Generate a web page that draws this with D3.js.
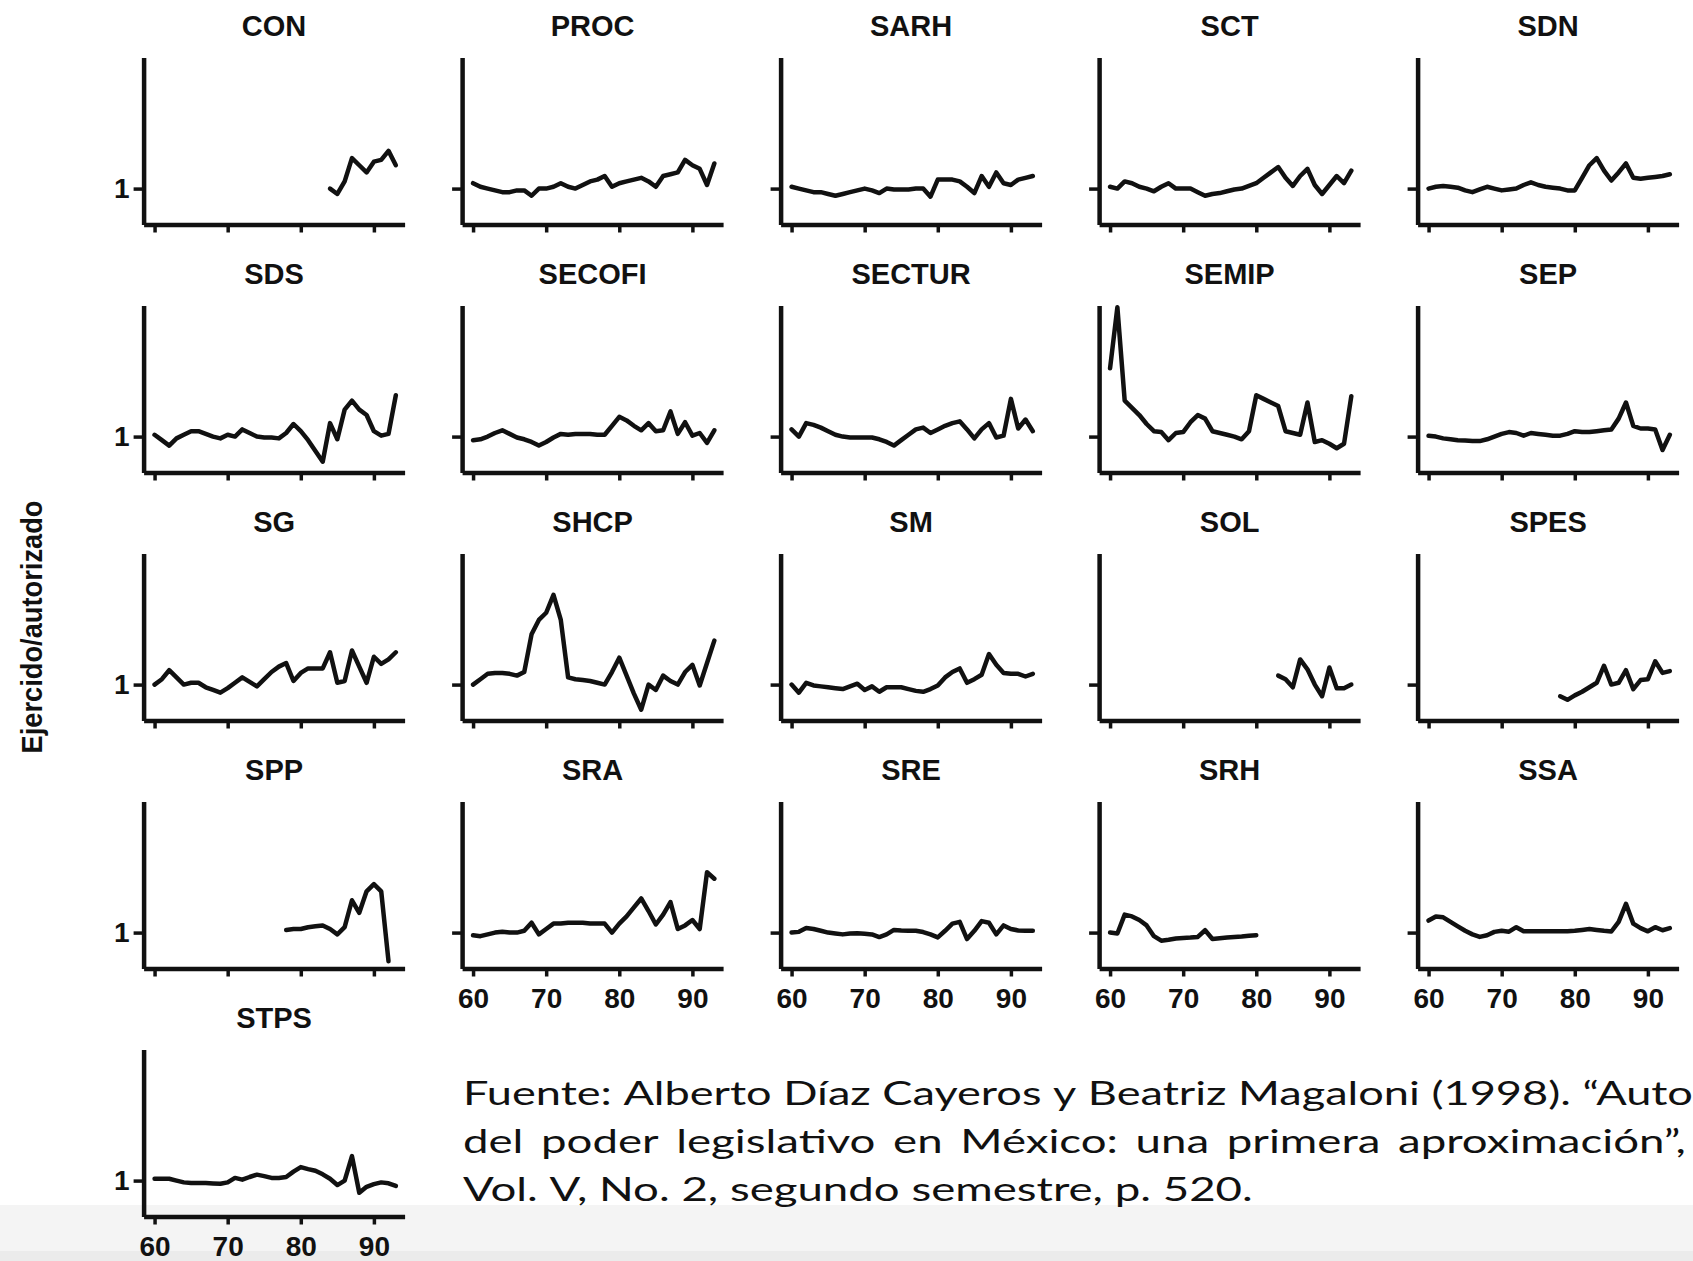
<!DOCTYPE html>
<html>
<head>
<meta charset="utf-8">
<script src="https://cdn.jsdelivr.net/npm/d3@7"></script>
<style>
  body { margin: 0; background: #fff; }
  svg { display: block; }
  .axis path.domain { stroke: #111; stroke-width: 4.5; }
  .axis .tick line { stroke: #111; stroke-width: 3.5; }
  .axis text { font-family: "Liberation Sans", Arial, sans-serif; font-weight: bold; font-size: 28px; fill: #111; }
  .title { font-family: "Liberation Sans", Arial, sans-serif; font-weight: bold; font-size: 29px; fill: #111; }
  .source { font-family: Lato, "Open Sans", sans-serif; font-size: 32px; fill: #111; }
</style>
</head>
<body>
<script>
const width = 1693, height = 1261;

// panels in the order of the figure (5 per row)
const agencies = ["CON", "PROC", "SARH", "SCT", "SDN",
                  "SDS", "SECOFI", "SECTUR", "SEMIP", "SEP",
                  "SG", "SHCP", "SM", "SOL", "SPES",
                  "SPP", "SRA", "SRE", "SRH", "SSA",
                  "STPS"];
// first year of each series (others start in 1960)
const firstYear = { CON: 84, SOL: 83, SPES: 78, SPP: 78 };
const yearTicks = [60, 70, 80, 90];
const yTicks = [1];

// ejercido / autorizado, one value per year
const CON = [1.00, 0.97, 1.04, 1.17, 1.13, 1.09, 1.15, 1.16, 1.21, 1.13];
const PROC = [1.03, 1.01, 1.00, 0.99, 0.98, 0.98, 0.99, 0.99, 0.96, 1.00,
              1.00, 1.01, 1.03, 1.01, 1.00, 1.02, 1.04, 1.05, 1.07, 1.01,
              1.03, 1.04, 1.05, 1.06, 1.04, 1.01, 1.07, 1.08, 1.09, 1.16,
              1.13, 1.11, 1.02, 1.14];
const SARH = [1.01, 1.00, 0.99, 0.98, 0.98, 0.97, 0.96, 0.97, 0.98, 0.99,
              1.00, 0.99, 0.975, 1.00, 0.995, 0.995, 0.995, 1.00, 1.00, 0.955,
              1.05, 1.05, 1.05, 1.04, 1.01, 0.975, 1.07, 1.01, 1.09, 1.03,
              1.02, 1.05, 1.06, 1.07];
const SCT = [1.01, 1.00, 1.04, 1.03, 1.01, 1.00, 0.985, 1.01, 1.03, 1.00,
             1.00, 1.00, 0.98, 0.96, 0.97, 0.975, 0.985, 0.995, 1.00, 1.015,
             1.03, 1.06, 1.09, 1.12, 1.06, 1.015, 1.07, 1.11, 1.02, 0.97,
             1.02, 1.07, 1.03, 1.10];
const SDN = [1.00, 1.01, 1.015, 1.01, 1.005, 0.99, 0.98, 0.995, 1.01, 1.00,
             0.99, 0.995, 1.00, 1.02, 1.035, 1.02, 1.01, 1.005, 1.00, 0.99,
             0.99, 1.06, 1.13, 1.17, 1.10, 1.045, 1.09, 1.14, 1.06, 1.055,
             1.06, 1.065, 1.07, 1.08];
const SDS = [1.01, 0.98, 0.95, 0.99, 1.01, 1.03, 1.03, 1.015, 1.00, 0.99,
             1.01, 1.00, 1.04, 1.02, 1.00, 0.995, 0.995, 0.99, 1.02, 1.07,
             1.03, 0.98, 0.92, 0.86, 1.075, 0.985, 1.15, 1.20, 1.15, 1.12,
             1.03, 1.005, 1.015, 1.23];
const SECOFI = [0.98, 0.985, 1.00, 1.02, 1.035, 1.015, 0.995, 0.985, 0.97, 0.95,
                0.97, 0.995, 1.015, 1.01, 1.015, 1.015, 1.015, 1.01, 1.01, 1.06,
                1.11, 1.09, 1.06, 1.035, 1.075, 1.03, 1.035, 1.14, 1.015, 1.08,
                1.005, 1.02, 0.965, 1.035];
const SECTUR = [1.04, 1.00, 1.075, 1.065, 1.05, 1.03, 1.01, 1.00, 0.995, 0.995,
                0.995, 0.995, 0.985, 0.97, 0.95, 0.98, 1.01, 1.04, 1.05, 1.02,
                1.04, 1.06, 1.075, 1.085, 1.04, 0.99, 1.04, 1.075, 0.995, 1.005,
                1.21, 1.045, 1.095, 1.03];
const SEMIP = [1.38, 1.72, 1.20, 1.16, 1.12, 1.07, 1.03, 1.025, 0.98, 1.02,
               1.025, 1.08, 1.12, 1.10, 1.03, 1.02, 1.01, 1.00, 0.985, 1.03,
               1.23, 1.21, 1.19, 1.17, 1.03, 1.02, 1.01, 1.19, 0.97, 0.98,
               0.96, 0.935, 0.96, 1.225];
const SEP = [1.005, 1.00, 0.99, 0.985, 0.98, 0.978, 0.975, 0.975, 0.985, 1.00,
             1.015, 1.025, 1.02, 1.005, 1.02, 1.015, 1.01, 1.005, 1.005, 1.015,
             1.03, 1.025, 1.025, 1.03, 1.035, 1.04, 1.10, 1.19, 1.06, 1.045,
             1.045, 1.04, 0.925, 1.01];
const SG = [1.00, 1.03, 1.08, 1.04, 1.00, 1.01, 1.01, 0.985, 0.97, 0.955,
            0.98, 1.01, 1.04, 1.015, 0.99, 1.03, 1.07, 1.10, 1.12, 1.02,
            1.065, 1.09, 1.09, 1.09, 1.18, 1.01, 1.02, 1.19, 1.10, 1.01,
            1.155, 1.115, 1.14, 1.18];
const SHCP = [1.00, 1.03, 1.06, 1.065, 1.065, 1.06, 1.05, 1.07, 1.28, 1.36,
              1.40, 1.50, 1.36, 1.04, 1.03, 1.025, 1.02, 1.01, 1.00, 1.07,
              1.15, 1.05, 0.95, 0.86, 1.00, 0.97, 1.05, 1.02, 1.00, 1.07,
              1.11, 0.995, 1.12, 1.245];
const SM = [1.00, 0.955, 1.01, 0.995, 0.99, 0.985, 0.98, 0.975, 0.99, 1.005,
            0.97, 0.99, 0.96, 0.985, 0.985, 0.985, 0.975, 0.965, 0.96, 0.975,
            0.995, 1.04, 1.07, 1.09, 1.01, 1.03, 1.055, 1.17, 1.11, 1.065,
            1.06, 1.06, 1.045, 1.06];
const SOL = [1.05, 1.03, 0.985, 1.14, 1.085, 1.00, 0.935, 1.095, 0.98, 0.98, 1.00];
const SPES = [0.935, 0.915, 0.94, 0.96, 0.985, 1.01, 1.105, 1.00, 1.01, 1.08,
              0.975, 1.025, 1.03, 1.13, 1.065, 1.075];
const SPP = [1.015, 1.02, 1.02, 1.03, 1.035, 1.04, 1.02, 0.99, 1.03, 1.18,
             1.11, 1.23, 1.27, 1.23, 0.84];
const SRA = [0.985, 0.98, 0.99, 1.00, 1.005, 1.00, 1.00, 1.01, 1.055, 0.99,
             1.02, 1.05, 1.05, 1.055, 1.055, 1.055, 1.05, 1.05, 1.05, 1.00,
             1.05, 1.09, 1.14, 1.19, 1.12, 1.045, 1.10, 1.17, 1.02, 1.04,
             1.07, 1.02, 1.336, 1.30];
const SRE = [1.00, 1.004, 1.025, 1.02, 1.01, 1.00, 0.995, 0.99, 0.995, 0.996,
             0.993, 0.99, 0.975, 0.99, 1.015, 1.012, 1.01, 1.01, 1.003, 0.99,
             0.973, 1.01, 1.05, 1.06, 0.964, 1.01, 1.064, 1.055, 0.99, 1.04,
             1.02, 1.012, 1.01, 1.01];
const SRH = [1.00, 0.995, 1.10, 1.09, 1.07, 1.04, 0.98, 0.955, 0.96, 0.967,
             0.97, 0.972, 0.976, 1.013, 0.964, 0.968, 0.972, 0.975, 0.978, 0.982,
             0.985];
const SSA = [1.067, 1.09, 1.085, 1.06, 1.035, 1.01, 0.99, 0.976, 0.985, 1.004,
             1.01, 1.005, 1.03, 1.007, 1.007, 1.007, 1.007, 1.007, 1.007, 1.007,
             1.01, 1.015, 1.02, 1.015, 1.01, 1.006, 1.06, 1.16, 1.05, 1.025,
             1.007, 1.03, 1.013, 1.025];
const STPS = [1.01, 1.01, 1.01, 1.00, 0.99, 0.986, 0.986, 0.986, 0.984, 0.982,
              0.99, 1.015, 1.005, 1.02, 1.033, 1.025, 1.015, 1.015, 1.02, 1.05,
              1.075, 1.064, 1.055, 1.035, 1.01, 0.975, 1.00, 1.136, 0.932, 0.965,
              0.98, 0.99, 0.985, 0.97];

const yLabel = "Ejercido/autorizado";
const sourceLines = [
  "Fuente: Alberto Díaz Cayeros y Beatriz Magaloni (1998). “Auto",
  "del poder legislativo en México: una primera aproximación”,",
  "Vol. V, No. 2, segundo semestre, p. 520."
];

const values = { CON, PROC, SARH, SCT, SDN, SDS, SECOFI, SECTUR, SEMIP, SEP,
                 SG, SHCP, SM, SOL, SPES, SPP, SRA, SRE, SRH, SSA, STPS };
const series = agencies.map(name => {
  const y0 = firstYear[name] || 60;
  return { name, points: values[name].map((v, i) => ({ year: y0 + i, value: v })) };
});

// layout
const pw = 261, ph = 167;
const colStep = 318.5, rowStep = 248;
const left0 = 143.6, base0 = 224.5;

const svg = d3.select("body").append("svg")
  .attr("width", width)
  .attr("height", height);

svg.append("rect").attr("width", width).attr("height", height).attr("fill", "#fff");
svg.append("rect").attr("y", 1205).attr("width", width).attr("height", 46).attr("fill", "#f4f4f4");
svg.append("rect").attr("y", 1251).attr("width", width).attr("height", 10).attr("fill", "#ebebeb");

const x = d3.scaleLinear().domain([58.5, 94.2]).range([0, pw]);
const y = d3.scaleLinear().domain([0.8, 1.73]).range([ph, 0]);

const line = d3.line()
  .x(d => x(d.year))
  .y(d => y(d.value));

series.forEach((s, i) => {
  const col = i % 5, row = Math.floor(i / 5);
  const g = svg.append("g")
    .attr("transform", `translate(${left0 + col * colStep},${base0 + row * rowStep - ph})`);

  const showYears = i + 5 >= series.length;
  g.append("g")
    .attr("class", "axis")
    .attr("transform", `translate(0,${ph})`)
    .call(d3.axisBottom(x)
      .tickValues(yearTicks)
      .tickSize(8)
      .tickSizeOuter(0)
      .tickPadding(12)
      .tickFormat(showYears ? d3.format("d") : ""));

  g.append("g")
    .attr("class", "axis")
    .call(d3.axisLeft(y)
      .tickValues(yTicks)
      .tickSize(10)
      .tickSizeOuter(0)
      .tickPadding(4)
      .tickFormat(col === 0 ? d3.format("d") : ""));

  g.append("text")
    .attr("class", "title")
    .attr("x", pw / 2)
    .attr("y", ph - 189)
    .attr("text-anchor", "middle")
    .text(s.name);

  g.append("path")
    .datum(s.points)
    .attr("fill", "none")
    .attr("stroke", "#111")
    .attr("stroke-width", 4.5)
    .attr("stroke-linejoin", "round")
    .attr("stroke-linecap", "round")
    .attr("d", line);
});

svg.append("text")
  .attr("class", "title")
  .attr("transform", "translate(42,627) rotate(-90)")
  .attr("text-anchor", "middle")
  .attr("font-size", 28)
  .attr("textLength", 253)
  .attr("lengthAdjust", "spacingAndGlyphs")
  .text(yLabel);

// source note: lines 1 and 3 squeezed to their width, line 2 justified
const src = svg.append("g").attr("class", "source");
const measure = t => {
  const tmp = src.append("text").text(t);
  const w = tmp.node().getComputedTextLength();
  tmp.remove();
  return w;
};
const srcX = 463;
const srcBase = [1105, 1153, 1201];
const srcWidth = [1226, 1223, 788];
const k3 = srcWidth[2] / measure(sourceLines[2]);
const spaceW = measure("a a") - measure("aa");

sourceLines.forEach((t, li) => {
  const words = t.split(" ");
  const k = li === 1 ? k3 : srcWidth[li] / measure(t);
  const widths = words.map(w => measure(w) * k);
  const gap = li === 1
    ? (srcWidth[li] - d3.sum(widths)) / (words.length - 1)
    : spaceW * k;
  let cx = srcX;
  words.forEach((w, wi) => {
    src.append("text")
      .attr("x", cx)
      .attr("y", srcBase[li])
      .attr("textLength", widths[wi])
      .attr("lengthAdjust", "spacingAndGlyphs")
      .text(w);
    cx += widths[wi] + gap;
  });
});
</script>
</body>
</html>
